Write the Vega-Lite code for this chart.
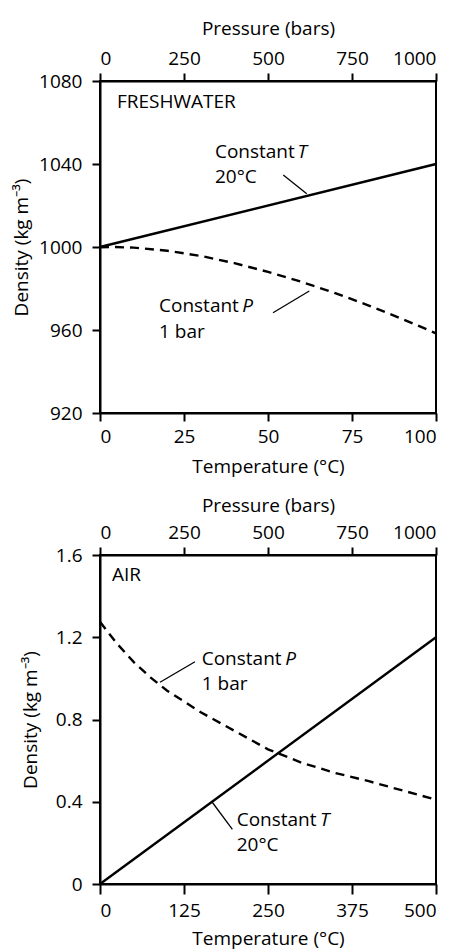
{
  "$schema": "https://vega.github.io/schema/vega-lite/v6.json",
  "padding": {"left": 11, "top": 18, "right": 5, "bottom": 0},
  "spacing": 18,
  "config": {
    "view": {"stroke": "black", "strokeWidth": 2},
    "axis": {
      "domainColor": "black", "domainWidth": 2, "tickColor": "black", "tickWidth": 2, "tickSize": 8,
      "labelFont": "Open Sans", "labelFontSize": 19, "labelColor": "black",
      "titleFont": "Open Sans", "titleFontSize": 19, "titleFontWeight": "normal", "titleColor": "black",
      "grid": false
    },
    "text": {"font": "Open Sans", "fontSize": 19, "color": "black"}
  },
  "datasets": {
    "waterT": [
      {"T": 0, "d": 999.8}, {"T": 4, "d": 1000.0}, {"T": 10, "d": 999.7}, {"T": 20, "d": 998.2},
      {"T": 30, "d": 995.7}, {"T": 40, "d": 992.2}, {"T": 50, "d": 988.0}, {"T": 60, "d": 983.2},
      {"T": 70, "d": 977.8}, {"T": 80, "d": 971.8}, {"T": 90, "d": 965.3}, {"T": 100, "d": 958.4}
    ],
    "waterP": [{"P": 0, "d": 1000}, {"P": 1000, "d": 1040}],
    "waterLabels": [
      {"text": "FRESHWATER", "P": 50.6, "d": 1067},
      {"text": "Constant", "P": 342, "d": 1042.9},
      {"text": "20°C", "P": 342, "d": 1030.8},
      {"text": "Constant", "P": 175.6, "d": 968.7},
      {"text": "1 bar", "P": 175.6, "d": 956.3}
    ],
    "waterItalic": [
      {"text": "T", "P": 588, "d": 1042.9},
      {"text": "P", "P": 423, "d": 968.7}
    ],
    "waterLeaders": [
      {"P": 545.5, "d": 1034.7, "P2": 615.2, "d2": 1025.7},
      {"P": 514.9, "d": 968.3, "P2": 622.9, "d2": 978.8}
    ],
    "airT": [
      {"T": 0, "d": 1.275}, {"T": 25, "d": 1.17}, {"T": 50, "d": 1.08}, {"T": 75, "d": 1.005},
      {"T": 100, "d": 0.94}, {"T": 150, "d": 0.835}, {"T": 200, "d": 0.745}, {"T": 250, "d": 0.655},
      {"T": 300, "d": 0.59}, {"T": 350, "d": 0.54}, {"T": 400, "d": 0.5}, {"T": 450, "d": 0.455},
      {"T": 500, "d": 0.41}
    ],
    "airP": [{"P": 0, "d": 0}, {"P": 1000, "d": 1.2}],
    "airLabels": [
      {"text": "AIR", "P": 35.7, "d": 1.475},
      {"text": "Constant", "P": 302.7, "d": 1.065},
      {"text": "1 bar", "P": 302.7, "d": 0.943},
      {"text": "Constant", "P": 406.8, "d": 0.282},
      {"text": "20°C", "P": 406.8, "d": 0.162}
    ],
    "airItalic": [
      {"text": "P", "P": 551, "d": 1.065},
      {"text": "T", "P": 654.8, "d": 0.282}
    ],
    "airLeaders": [
      {"P": 282.7, "d": 1.081, "P2": 178.6, "d2": 0.981},
      {"P": 333, "d": 0.4, "P2": 394, "d2": 0.266}
    ]
  },
  "vconcat": [
    {
      "width": 336, "height": 332,
      "resolve": {"scale": {"x": "independent"}, "axis": {"x": "independent"}},
      "layer": [
        {
          "data": {"name": "waterT"},
          "mark": {"type": "line", "color": "black", "strokeWidth": 2.4, "strokeDash": [9, 6]},
          "encoding": {
            "x": {"field": "T", "type": "quantitative", "scale": {"domain": [0, 100], "nice": false},
                  "axis": {"orient": "bottom", "title": "Temperature (°C)", "values": [0, 25, 50, 75, 100], "labelPadding": 6, "titlePadding": 11}},
            "y": {"field": "d", "type": "quantitative", "scale": {"domain": [920, 1080], "nice": false, "zero": false},
                  "axis": {"title": "Density (kg m⁻³)", "values": [920, 960, 1000, 1040, 1080], "format": "d", "labelPadding": 10,
                           "titleX": -79, "titleY": 166, "titleBaseline": "middle", "titleAnchor": "middle"}}
          }
        },
        {
          "layer": [
            {
              "data": {"name": "waterP"},
              "mark": {"type": "line", "color": "black", "strokeWidth": 2.4}
            },
            {
              "data": {"name": "waterLeaders"},
              "mark": {"type": "rule", "color": "black", "strokeWidth": 1.3},
              "encoding": {
                "x2": {"field": "P2"},
                "y2": {"field": "d2"}
              }
            },
            {
              "data": {"name": "waterLabels"},
              "mark": {"type": "text", "align": "left", "baseline": "alphabetic"},
              "encoding": {"text": {"field": "text"}}
            },
            {
              "data": {"name": "waterItalic"},
              "mark": {"type": "text", "align": "left", "baseline": "alphabetic", "fontStyle": "italic"},
              "encoding": {"text": {"field": "text"}}
            }
          ],
          "encoding": {
            "x": {"field": "P", "type": "quantitative", "scale": {"domain": [0, 1000], "nice": false},
                  "axis": {"orient": "top", "title": "Pressure (bars)", "values": [0, 250, 500, 750, 1000], "format": "d", "labelPadding": 5, "titlePadding": 11}},
            "y": {"field": "d", "type": "quantitative"}
          }
        }
      ]
    },
    {
      "width": 336, "height": 329,
      "resolve": {"scale": {"x": "independent"}, "axis": {"x": "independent"}},
      "layer": [
        {
          "data": {"name": "airT"},
          "mark": {"type": "line", "color": "black", "strokeWidth": 2.4, "strokeDash": [9, 6]},
          "encoding": {
            "x": {"field": "T", "type": "quantitative", "scale": {"domain": [0, 500], "nice": false},
                  "axis": {"orient": "bottom", "title": "Temperature (°C)", "values": [0, 125, 250, 375, 500], "tickSize": 10, "labelPadding": 7, "titlePadding": 9}},
            "y": {"field": "d", "type": "quantitative", "scale": {"domain": [0, 1.6], "nice": false},
                  "axis": {"title": "Density (kg m⁻³)", "values": [0, 0.4, 0.8, 1.2, 1.6], "format": ".1~f", "labelPadding": 10,
                           "titleX": -70, "titleY": 164.5, "titleBaseline": "middle", "titleAnchor": "middle"}}
          }
        },
        {
          "layer": [
            {
              "data": {"name": "airP"},
              "mark": {"type": "line", "color": "black", "strokeWidth": 2.4}
            },
            {
              "data": {"name": "airLeaders"},
              "mark": {"type": "rule", "color": "black", "strokeWidth": 1.3},
              "encoding": {
                "x2": {"field": "P2"},
                "y2": {"field": "d2"}
              }
            },
            {
              "data": {"name": "airLabels"},
              "mark": {"type": "text", "align": "left", "baseline": "alphabetic"},
              "encoding": {"text": {"field": "text"}}
            },
            {
              "data": {"name": "airItalic"},
              "mark": {"type": "text", "align": "left", "baseline": "alphabetic", "fontStyle": "italic"},
              "encoding": {"text": {"field": "text"}}
            }
          ],
          "encoding": {
            "x": {"field": "P", "type": "quantitative", "scale": {"domain": [0, 1000], "nice": false},
                  "axis": {"orient": "top", "title": "Pressure (bars)", "values": [0, 250, 500, 750, 1000], "format": "d", "labelPadding": 5, "titlePadding": 8}},
            "y": {"field": "d", "type": "quantitative"}
          }
        }
      ]
    }
  ]
}
